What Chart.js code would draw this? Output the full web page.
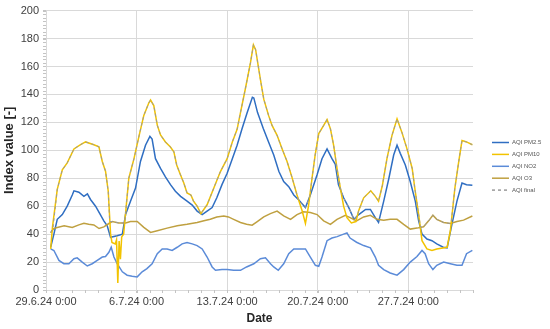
<!DOCTYPE html>
<html>
<head>
<meta charset="utf-8">
<script src="https://cdn.jsdelivr.net/npm/chart.js@4.4.1/dist/chart.umd.min.js"></script>
<style>
html,body{margin:0;padding:0;background:#fff;}
#c{display:block;}
</style>
</head>
<body>
<canvas id="c" width="550" height="329"></canvas>
<script>
// ---- data (x = days since 29.6.24 0:00) ----
const xTickValues = [0, 7, 14, 21, 28];
const xTickLabels = ["29.6.24 0:00", "6.7.24 0:00", "13.7.24 0:00", "20.7.24 0:00", "27.7.24 0:00"];
const seriesNames = ["AQI PM2.5", "AQI PM10", "AQI NO2", "AQI O3", "AQI final"];

const pm25Days = [0.36,0.61,0.87,1.26,1.64,2.03,2.16,2.54,2.93,3.2,3.44,3.83,4.2,4.47,4.73,4.99,5.5,5.9,6.15,6.53,6.92,7.3,7.69,8.03,8.2,8.46,8.85,9.23,9.62,10.0,10.4,10.9,11.3,11.68,12.07,12.45,12.84,13.2,13.6,14.0,14.4,14.77,15.15,15.55,15.95,16.06,16.35,16.8,17.2,17.6,18.0,18.37,18.76,19.15,19.5,20.05,20.43,20.95,21.33,21.72,22.1,22.36,22.6,23.0,23.4,23.8,24.17,24.7,25.07,25.45,25.7,26.1,26.5,26.87,27.13,27.38,27.77,28.15,28.54,28.8,29.06,29.44,29.83,30.2,30.7,31.0,31.37,31.76,32.15,32.5,32.95];
const pm25Vals = [30.6,40,50.6,54,60,68,71,70,67,68.8,64.8,60,54,49.5,46,37.7,38.9,40,54,63.6,73,92,103.6,110,108,94,87,81,75.4,70.7,67,63.6,60.8,56.5,54,56.5,59,66,75.4,83.6,94,103.6,115.4,127,138,137.5,127,115.4,106,96.6,84.8,77.7,74,68,64.8,59,68,82.5,94,101,94,90,75.4,66,59,50.6,54,57.7,57.7,51.8,48.3,63.6,80,96.6,103.6,97.8,89.5,77.7,63.6,49.5,40,36.5,35.3,33,30.6,30.2,47,63.6,76.6,75.4,75];

const pm10Days = [0.36,0.5,0.87,1.26,1.64,2.16,2.67,3.06,3.7,4.09,4.35,4.6,4.81,4.99,5.1,5.35,5.45,5.55,5.65,5.75,5.85,6.0,6.4,6.8,7.2,7.56,7.95,8.08,8.33,8.6,8.85,9.23,9.6,9.88,10.1,10.39,10.65,10.9,11.2,11.4,11.68,11.97,12.45,12.97,13.48,14.0,14.4,14.77,15.03,15.4,15.8,16.03,16.2,16.57,16.83,17.2,17.47,17.86,18.25,18.63,19.0,19.4,19.8,20.05,20.3,20.56,20.8,21.08,21.46,21.72,21.98,22.23,22.49,22.75,23.0,23.26,23.6,23.95,24.17,24.55,25.1,25.45,25.7,26.0,26.35,26.74,27.13,27.5,27.9,28.3,28.5,28.8,29.06,29.44,29.83,30.2,31.0,31.25,31.6,31.9,32.15,32.5,32.95];
const pm10Vals = [29.4,45,72,86,91,101,104,106,104,102.5,92,85,70.7,40,34,33,36,5,35,22,38,40,80,94,110.7,125,134,136,132,118,111,106,102.5,99,89.5,82.5,76.6,69.5,68,63.6,60,54.7,61,73,84.8,94,106,115,127,143.7,162.5,175.5,172,150.8,136.6,125,117.8,110.7,101,92,81,68,56.5,47.6,61,80,96.6,112,117.8,122,115.4,103.6,87,73,60,51.8,48,49,57,66,71,67,63.6,75,94,110.7,122.5,113,101,87,73,54,35.3,29.4,28.3,29.4,30.6,42.4,73,92,107,106,104];

const no2Days = [0.36,0.61,1.0,1.38,1.77,2.16,2.41,2.8,3.19,3.57,3.96,4.35,4.6,4.86,5.04,5.25,5.5,5.9,6.27,6.66,7.05,7.43,7.8,8.2,8.6,8.98,9.36,9.75,10.14,10.52,10.9,11.3,11.68,12.07,12.45,12.84,13.1,13.6,14.0,14.5,15.03,15.5,16.06,16.57,16.96,17.35,17.6,17.95,18.37,18.76,19.15,19.66,20.05,20.43,20.82,21.08,21.33,21.72,22.1,22.5,23.0,23.26,23.5,24.0,24.55,25.07,25.45,25.7,26.1,26.6,27.13,27.64,28.15,28.67,29.06,29.3,29.57,29.9,30.2,30.73,31.25,31.76,32.15,32.5,32.95];
const no2Vals = [29.4,28.3,21.2,18.8,18.8,22.4,23,20,17.2,18.8,21.2,23.6,24,27,30.6,23.6,18.8,13,10.6,9.9,9.4,13,15.3,18.8,26,29.4,29.4,28.3,30.6,33,34,33,31.8,29.4,23.6,16.5,14.1,14.6,14.6,14.1,14.1,16.5,18.8,22.4,23,18.8,16.5,14.1,18.8,26,29.4,29.4,29.4,23.6,17.7,17,23.6,35.3,37.2,38.2,40,40.8,37.2,34.2,31.8,30.2,23.6,17.7,14.6,12.2,10.6,14.6,20,24,28.3,26,18.8,14.6,17.7,20,18.8,17.7,17.7,26,28.3];

const o3Days = [0.36,0.6,0.87,1.4,2.03,2.54,2.93,3.3,3.7,4.1,4.47,4.86,5.12,5.63,6.15,6.53,7.05,7.56,8.08,8.6,9.36,10.14,10.9,11.68,12.2,12.7,13.2,13.74,14.1,14.5,15.03,15.5,15.93,16.3,16.83,17.34,17.86,18.37,18.9,19.4,19.9,20.43,20.95,21.46,21.98,22.49,23.13,23.5,24.0,24.55,25.07,25.58,26.1,26.6,27.13,27.64,28.15,28.67,29.18,29.57,29.9,30.2,30.73,31.25,31.76,32.27,32.95];
const o3Vals = [41,44,44.8,46,44.8,46.6,47.8,47,46.6,44,45.2,47.6,49,48,48,49,49,44.8,41.2,42.4,44.3,46,47,48.3,49.5,50.6,52.3,53,52.3,50.6,48.3,47,46.4,48.8,52.3,54.7,56.5,53,50.6,54,56,55.4,54,49.5,47,50.6,53.5,51.8,49.5,52.3,53.5,50.6,50,50.6,50.6,47,43.6,44.3,45.2,49.5,53.5,50.6,48.3,47.6,49,50,53];

const finalDays = [0.36,0.55,0.87,1.26,1.64,2.16,2.67,3.06,3.7,4.09,4.35,4.6,4.81,4.92,5.12,5.63,6.08,6.4,6.8,7.2,7.56,7.95,8.08,8.33,8.6,8.85,9.23,9.6,9.88,10.1,10.39,10.65,10.9,11.2,11.4,11.68,11.97,12.45,12.97,13.48,14.0,14.4,14.77,15.03,15.4,15.8,16.03,16.2,16.57,16.83,17.2,17.47,17.86,18.25,18.63,19.0,19.4,19.5,20.05,20.38,20.56,20.8,21.08,21.46,21.72,21.98,22.23,22.49,22.8,23.0,23.4,23.8,24.05,24.17,24.55,25.1,25.45,25.7,26.0,26.35,26.74,27.13,27.5,27.9,28.3,28.5,28.8,28.95,29.18,29.57,29.9,30.2,30.73,31.25,31.31,31.6,31.9,32.15,32.5,32.95];
const finalVals = [41,45,72,86,91,101,104,106,104,102.5,92,85,70.7,49,49,48,48,80,94,110.7,125,134,136,132,118,111,106,102.5,99,89.5,82.5,76.6,69.5,68,63.6,60,54.7,61,73,84.8,94,106,115,127,143.7,162.5,175.5,172,150.8,136.6,125,117.8,110.7,101,92,81,68,65,59,66.8,80,96.6,112,117.8,122,115.4,103.6,87,71,66,59,50.6,53,57,66,71,67,63.6,75,94,110.7,122.5,113,101,87,73,54,45,45.2,49.5,53.5,50.6,48.3,47.6,48,73,92,107,106,104];

const seriesColors = ["#2F6EC2", "#F2C300", "#5B8BD8", "#BFA040", "#9A9A9A"];

function pts(days, vals) { return days.map((d, i) => ({ x: d, y: vals[i] })); }

const minorTicks = {
  id: 'minorTicks',
  afterDraw(chart) {
    const ctx = chart.ctx, xs = chart.scales.x, ys = chart.scales.y;
    const a = chart.chartArea;
    ctx.save();
    ctx.strokeStyle = '#C4C4C4';
    ctx.lineWidth = 1;
    ctx.beginPath();
    for (let d = 0; d <= 33; d++) {
      const px = Math.round(xs.getPixelForValue(d)) + 0.5;
      ctx.moveTo(px, a.bottom); ctx.lineTo(px, a.bottom + 3);
    }
    for (let v = 0; v <= 200; v += 2.5) {
      const py = Math.round(ys.getPixelForValue(v)) + 0.5;
      ctx.moveTo(a.left - 3, py); ctx.lineTo(a.left, py);
    }
    ctx.stroke();
    ctx.restore();
  }
};

const customLegend = {
  id: 'customLegend',
  afterDraw(chart) {
    const ctx = chart.ctx;
    ctx.save();
    ctx.font = '6px "Liberation Sans", Arial, sans-serif';
    ctx.textBaseline = 'middle';
    ctx.textAlign = 'left';
    chart.data.datasets.forEach((ds, i) => {
      const y = 142.5 + i * 11.9;
      ctx.beginPath();
      ctx.strokeStyle = ds.borderColor;
      ctx.lineWidth = 1.5;
      ctx.setLineDash(ds.borderDash || []);
      ctx.moveTo(492, y); ctx.lineTo(509, y);
      ctx.stroke();
      ctx.setLineDash([]);
      ctx.fillStyle = '#555555';
      ctx.fillText(ds.label, 512, y);
    });
    ctx.restore();
  }
};

const datasets = [
  { label: seriesNames[0], data: pts(pm25Days, pm25Vals), borderColor: seriesColors[0], borderWidth: 1.5, order: 3 },
  { label: seriesNames[1], data: pts(pm10Days, pm10Vals), borderColor: seriesColors[1], borderWidth: 1.5, order: 1 },
  { label: seriesNames[2], data: pts(no2Days, no2Vals), borderColor: seriesColors[2], borderWidth: 1.5, order: 4 },
  { label: seriesNames[3], data: pts(o3Days, o3Vals), borderColor: seriesColors[3], borderWidth: 1.5, order: 2 },
  { label: seriesNames[4], data: pts(finalDays, finalVals), borderColor: seriesColors[4], borderWidth: 1, borderDash: [3, 3], order: 0 }
];
datasets.forEach(d => { d.pointRadius = 0; d.tension = 0; d.fill = false; d.backgroundColor = d.borderColor; });

new Chart(document.getElementById('c'), {
  type: 'line',
  data: { datasets },
  options: {
    responsive: false,
    animation: false,
    devicePixelRatio: 1,
    layout: { padding: { top: 7, right: 77, left: 0, bottom: 0 } },
    plugins: { legend: { display: false }, tooltip: { enabled: false } },
    scales: {
      x: {
        type: 'linear', min: 0, max: 33,
        afterBuildTicks(scale) { scale.ticks = xTickValues.map(v => ({ value: v })); },
        afterFit(scale) { scale.height = 39; },
        ticks: {
          autoSkip: false, maxRotation: 0, padding: 2, color: '#404040',
          font: { family: '"Liberation Sans", Arial, sans-serif', size: 11 },
          callback(value) { const i = xTickValues.indexOf(value); return i >= 0 ? xTickLabels[i] : ''; }
        },
        grid: { color: '#D9D9D9', tickLength: 3, tickColor: '#C4C4C4' },
        border: { color: '#D9D9D9' },
        title: { display: true, text: 'Date', color: '#262626', padding: { top: 0, bottom: 3 },
          font: { family: '"Liberation Sans", Arial, sans-serif', size: 12, weight: 'bold' } }
      },
      y: {
        min: 0, max: 200,
        afterFit(scale) { scale.width = 46; },
        ticks: { stepSize: 20, padding: 4, color: '#404040',
          font: { family: '"Liberation Sans", Arial, sans-serif', size: 11 } },
        grid: { color: '#D9D9D9', tickLength: 3, tickColor: '#C4C4C4' },
        border: { color: '#D9D9D9' },
        title: { display: true, text: 'Index value [-]', color: '#262626', padding: { top: 2, bottom: 0 },
          font: { family: '"Liberation Sans", Arial, sans-serif', size: 13, weight: 'bold' } }
      }
    }
  },
  plugins: [minorTicks, customLegend]
});
</script>
</body>
</html>
